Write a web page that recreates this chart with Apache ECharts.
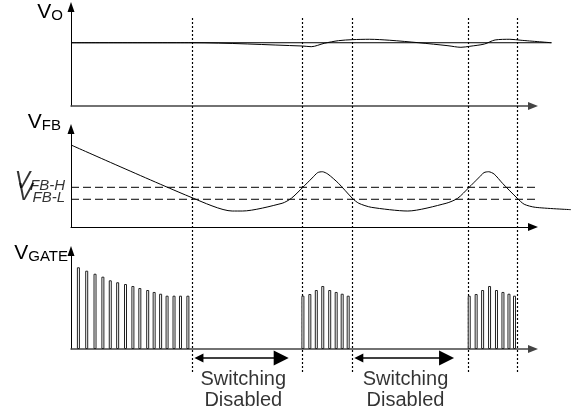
<!DOCTYPE html>
<html><head><meta charset="utf-8">
<script src="https://cdn.jsdelivr.net/npm/echarts@6/dist/echarts.min.js"></script>
<style>html,body{margin:0;padding:0;background:#fff}#c{width:571px;height:408px}</style>
</head><body><div id="c"></div>
<script>
// time in arbitrary units: the axis arrow sits at 100, the picture's right edge at 108.23
const timeAxisEnd = 100;
const timeViewEnd = 108.23;
const switchEdges = [26.2, 50.1, 60.9, 86.0, 96.6];

// V_O
const voTime  = [0, 26.2, 50.1, 52.0, 54.8, 57.9, 60.9, 64.6, 69.0, 75.3, 81.6, 84.4, 86.3, 89.5, 91.8, 95.0, 97.4, 104.0];
const voValue = [6.39, 6.39, 6.06, 5.99, 6.33, 6.60, 6.70, 6.74, 6.64, 6.39, 6.09, 5.93, 6.03, 6.26, 6.67, 6.74, 6.64, 6.39];
const voNominal = 6.39;
const voNominalEnd = 104.0;

// V_FB
const fbTime  = [0, 26.2, 34.9, 37.1, 45.7, 47.7, 50.1, 52.2, 53.4, 54.4, 55.6, 57.9, 60.9, 62.3, 65.0, 72.9, 81.2, 83.7, 86.1, 88.2, 89.4, 90.4, 91.6, 93.4, 96.6, 98.1, 100.5, 108.2];
const fbValue = [8.37, 2.99, 1.63, 1.63, 2.42, 2.93, 4.01, 5.00, 5.55, 5.64, 5.40, 4.46, 2.93, 2.42, 2.01, 1.63, 2.42, 2.93, 4.01, 5.00, 5.55, 5.64, 5.40, 4.46, 2.93, 2.32, 2.01, 1.77];
const fbHigh = 4.05;
const fbLow = 2.83;
const fbRefEnd = 100.6;
const fbRefNames = ['FB-H', 'FB-L'];

// V_GATE pulses
const gate1Time  = [1.6, 3.4, 5.2, 6.9, 8.5, 10.1, 11.8, 13.4, 14.9, 16.6, 18.0, 19.4, 20.8, 22.3, 23.7, 25.3];
const gate1Value = [8.34, 7.99, 7.68, 7.38, 7.01, 6.81, 6.63, 6.43, 6.22, 6.02, 5.82, 5.64, 5.44, 5.44, 5.44, 5.44];
const gate2Time  = [50.2, 51.7, 53.1, 54.5, 56.0, 57.4, 58.7, 60.0];
const gate3Time  = [86.2, 87.7, 89.1, 90.6, 92.1, 93.5, 94.8, 96.0];
const burstValue = [5.44, 5.61, 6.02, 6.43, 6.02, 5.82, 5.64, 5.44];

// annotations (arrow shaft ends; the heads extend past them)
const disabledSpans = [[27.7, 45.5], [62.3, 81.3]];
const disabledTextAt = [37.3, 72.4];
const disabledText = 'Switching\nDisabled';

const FONT = 'Liberation Sans, Arial, sans-serif';
const pairs = (xs, ys) => xs.map((x, i) => [x, ys[i]]);

const L = 71, R = 38;
const panels = [{ top: 7, height: 99 }, { top: 129, height: 98 }, { top: 251, height: 98 }];

const richV = (italic, big) => ({
  v: { fontFamily: FONT, fontStyle: italic ? 'italic' : 'normal', fontSize: big, lineHeight: 22, color: '#000', verticalAlign: 'bottom' },
  s: { fontFamily: FONT, fontStyle: italic ? 'italic' : 'normal', fontSize: 15, lineHeight: 8, color: '#000', verticalAlign: 'bottom' }
});

const grids = [], xAxes = [], yAxes = [];
panels.forEach(p => grids.push({ left: L, right: 0, top: p.top, height: p.height }));
panels.forEach(p => grids.push({ left: L, right: R, top: p.top, height: p.height }));
grids.push({ left: L, right: 0, top: 16, bottom: 36 });

const yNames = ['{v|V}{s|O}', '{v|V}{s|FB}', '{v|V}{s|GATE}'];
const yGaps = [-16, -4, -13];
const yPads = [8, 10, 3];
for (let i = 0; i < 3; i++) {
  xAxes.push({ type: 'value', gridIndex: i, min: 0, max: timeViewEnd, show: false });
  yAxes.push({
    type: 'value', gridIndex: i, min: 0, max: 10,
    axisLine: { show: true, symbol: ['none', 'triangle'], symbolSize: [7, 10], lineStyle: { color: '#000', width: 1 } },
    axisTick: { show: false }, axisLabel: { show: false }, splitLine: { show: false },
    name: yNames[i], nameLocation: 'end', nameGap: yGaps[i],
    nameTextStyle: { align: 'right', verticalAlign: 'bottom', padding: [0, yPads[i], 0, 0], rich: richV(false, 21) }
  });
}
const axisColors = ['#444', '#000', '#444'];
const axisWidths = [1.5, 1, 1.5];
for (let i = 0; i < 3; i++) {
  xAxes.push({
    type: 'value', gridIndex: 3 + i, min: 0, max: timeAxisEnd,
    axisLine: { show: true, onZero: false, symbol: ['none', 'triangle'], symbolSize: [8, 10],
      lineStyle: { color: axisColors[i], width: axisWidths[i] } },
    axisTick: { show: false }, axisLabel: { show: false }, splitLine: { show: false }
  });
  yAxes.push({ type: 'value', gridIndex: 3 + i, min: 0, max: 10, show: false });
}
xAxes.push({ type: 'value', gridIndex: 6, min: 0, max: timeViewEnd, show: false });
yAxes.push({ type: 'value', gridIndex: 6, min: 0, max: 1, show: false });

const line = (xi, data, extra) => Object.assign({
  type: 'line', xAxisIndex: xi, yAxisIndex: xi, clip: false, symbol: 'none', data: data,
  lineStyle: { color: '#000', width: 1 }, silent: true
}, extra || {});

const option = {
  animation: false,
  backgroundColor: '#fff',
  grid: grids, xAxis: xAxes, yAxis: yAxes,
  series: [
    line(0, [[0, voNominal], [voNominalEnd, voNominal]]),
    line(0, pairs(voTime, voValue), { smooth: 0.3 }),
    line(1, pairs(fbTime, fbValue), { smooth: 0.25 }),
    line(1, [[0, fbHigh], [fbRefEnd, fbHigh]], { lineStyle: { color: '#000', width: 1, type: [8, 4] } }),
    line(1, [[0, fbLow], [fbRefEnd, fbLow]], { lineStyle: { color: '#000', width: 1, type: [8, 4] } }),
    { type: 'scatter', xAxisIndex: 1, yAxisIndex: 1, clip: false, symbolSize: 0, silent: true,
      itemStyle: { color: 'rgba(0,0,0,0)' },
      data: [fbHigh, fbLow].map((v, i) => ({ value: [0, v], name: fbRefNames[i] })),
      label: { show: true, position: 'left', distance: 6, offset: [0, -5],
        formatter: p => '{v|V}{s|' + p.name + '}', rich: richV(true, 23) } },
    { type: 'bar', xAxisIndex: 2, yAxisIndex: 2, barWidth: 3, silent: true,
      data: pairs(gate1Time, gate1Value).concat(pairs(gate2Time, burstValue), pairs(gate3Time, burstValue)),
      itemStyle: { color: '#fff', borderColor: '#222', borderWidth: 1 } },
    { type: 'lines', coordinateSystem: 'cartesian2d', xAxisIndex: 6, yAxisIndex: 6, silent: true,
      data: switchEdges.map(t => ({ coords: [[t, 0], [t, 1]] })),
      lineStyle: { color: '#000', width: 1.2, type: [2, 2], opacity: 1, curveness: 0 } },
    { type: 'lines', coordinateSystem: 'cartesian2d', xAxisIndex: 6, yAxisIndex: 6, silent: true,
      symbol: ['triangle', 'triangle'], symbolSize: [9, 15],
      data: disabledSpans.map(s => ({ coords: [[s[0], 0.039], [s[1], 0.039]] })),
      lineStyle: { color: '#000', width: 1.5, opacity: 1, curveness: 0 } },
    { type: 'scatter', xAxisIndex: 6, yAxisIndex: 6, clip: false, symbolSize: 0, silent: true,
      itemStyle: { color: 'rgba(0,0,0,0)' },
      data: disabledTextAt.map(t => [t, -0.05]),
      label: { show: true, position: 'inside', formatter: disabledText,
        fontFamily: FONT, fontSize: 20, lineHeight: 21, color: '#000', align: 'center' } }
  ]
};
echarts.init(document.getElementById('c'), null, { renderer: 'canvas' }).setOption(option);
</script>
</body></html>
